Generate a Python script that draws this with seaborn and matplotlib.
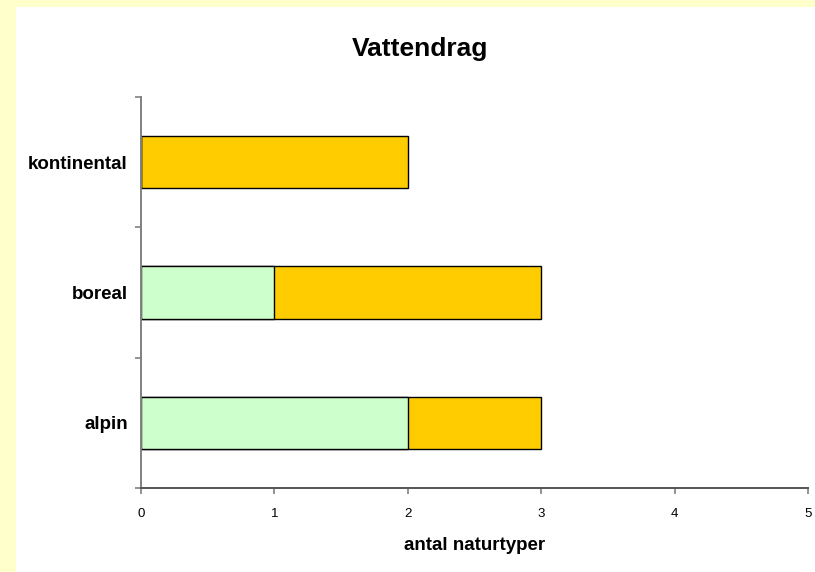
import matplotlib
matplotlib.use('Agg')
import matplotlib.pyplot as plt
import matplotlib.patches as mpatches
import seaborn as sns
import pandas as pd

# Data
regions = ['kontinental', 'boreal', 'alpin']
green_vals = [0, 1, 2]
orange_vals = [2, 2, 1]
x_ticks = [0, 1, 2, 3, 4, 5]

totals = [g + o for g, o in zip(green_vals, orange_vals)]
df = pd.DataFrame({'region': regions, 'green': green_vals, 'total': totals})

sns.set_style('white')
plt.rcParams['font.family'] = ['Liberation Sans', 'DejaVu Sans']
plt.rcParams['text.color'] = 'black'
plt.rcParams['xtick.labelcolor'] = 'black'
plt.rcParams['ytick.labelcolor'] = 'black'

fig = plt.figure(figsize=(8.15, 5.72), dpi=100)
fig.patch.set_facecolor('#FFFFCC')
# white chart area
fig.patches.append(mpatches.Rectangle((16 / 815, 0), 1, 1 - 7 / 572,
                                      transform=fig.transFigure,
                                      facecolor='white', edgecolor='none', zorder=-5))

ax = fig.add_axes([141 / 815, 1 - 488 / 572, (808 - 141) / 815, (488 - 97) / 572])
ax.set_facecolor('none')

# stacked bars: total (orange) then green on top
sns.barplot(data=df, x='total', y='region', order=regions, orient='h',
            color='#FFCC00', saturation=1, width=0.4,
            edgecolor='black', linewidth=1, ax=ax)
sns.barplot(data=df, x='green', y='region', order=regions, orient='h',
            color='#CCFFCC', saturation=1, width=0.4,
            edgecolor='black', linewidth=1, ax=ax)

ax.set_xlim(0, 5)
ax.set_ylim(2.5, -0.5)
ax.set_xticks(x_ticks)
ax.set_xticklabels([str(t) for t in x_ticks], fontsize=9.5)

# ticks at category boundaries, labels in the middle
ax.set_yticks([-0.5, 0.5, 1.5, 2.5])
ax.set_yticklabels([])
ax.set_yticks([0, 1, 2], minor=True)
ax.set_yticklabels(regions, minor=True, fontsize=13.5, fontweight='bold')
ax.tick_params(axis='y', which='minor', left=False, length=0, pad=9.5)
ax.tick_params(axis='y', which='major', left=True, length=4.5, width=1.2,
               color='#808080', direction='out')
ax.tick_params(axis='x', bottom=True, length=4, width=1.2, color='#808080',
               direction='out', pad=10.5)

for side in ['top', 'right']:
    ax.spines[side].set_visible(False)
ax.spines['left'].set_color('#808080')
ax.spines['bottom'].set_color('#555555')
ax.spines['left'].set_linewidth(1.4)
ax.spines['bottom'].set_linewidth(1.4)

ax.set_ylabel('')
ax.set_xlabel('')
fig.text(475 / 815, 1 - 546 / 572, 'antal naturtyper', ha='center', va='center',
         fontsize=13.5, fontweight='bold')
fig.text(420 / 815, 1 - 49 / 572, 'Vattendrag', ha='center', va='center',
         fontsize=19, fontweight='bold')

fig.savefig('out.png', dpi=100, facecolor=fig.get_facecolor())
